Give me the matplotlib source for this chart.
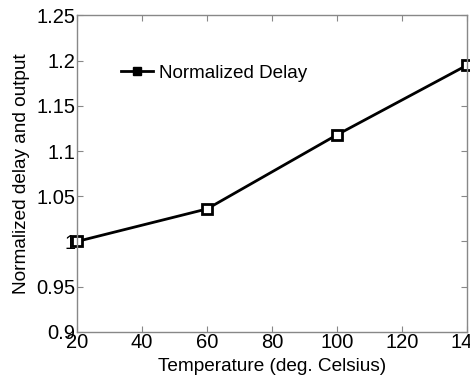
import matplotlib
matplotlib.use("Agg")
import matplotlib.pyplot as plt
from matplotlib.lines import Line2D

plt.rcParams['font.family'] = ['Liberation Sans', 'DejaVu Sans']

# data
temps = [20, 60, 100, 140]
norm_delay = [1.0, 1.036, 1.118, 1.195]
xticks = [20, 40, 60, 80, 100, 120, 140]
yticks = [0.9, 0.95, 1.0, 1.05, 1.1, 1.15, 1.2, 1.25]
ytick_labels = ['0.9', '0.95', '1', '1.05', '1.1', '1.15', '1.2', '1.25']

fig = plt.figure(figsize=(4.7, 3.75), dpi=100)
ax = fig.add_axes([0.164, 0.115, 0.830, 0.844])

ax.plot(temps, norm_delay, color='black', lw=2, marker='s', ms=7,
        mfc='white', mec='black', mew=2, clip_on=False)

ax.set_xlim(20, 140)
ax.set_ylim(0.9, 1.25)
ax.set_xticks(xticks)
ax.set_yticks(yticks)
ax.set_yticklabels(ytick_labels)

for s in ax.spines.values():
    s.set_color('#888888')
    s.set_linewidth(1)
ax.tick_params(direction='in', length=4, width=0.8, color='#888888',
               top=True, right=True, labelsize=14.5, pad=1)

ax.set_xlabel('Temperature (deg. Celsius)', fontsize=13.7, labelpad=4)
ax.set_ylabel('Normalized delay and output', fontsize=13.7)
ax.yaxis.set_label_coords(-0.12, 0.5)

# legend with filled marker like the original
handle = Line2D([], [], color='black', lw=2, marker='s', ms=6,
                mfc='black', mec='black')
ax.legend([handle], ['Normalized Delay'], loc='center left',
          bbox_to_anchor=(0.112, 0.818), frameon=False, fontsize=13.6,
          handlelength=1.7, handletextpad=0.3, borderpad=0, borderaxespad=0)

fig.savefig('out.png', dpi=100)
